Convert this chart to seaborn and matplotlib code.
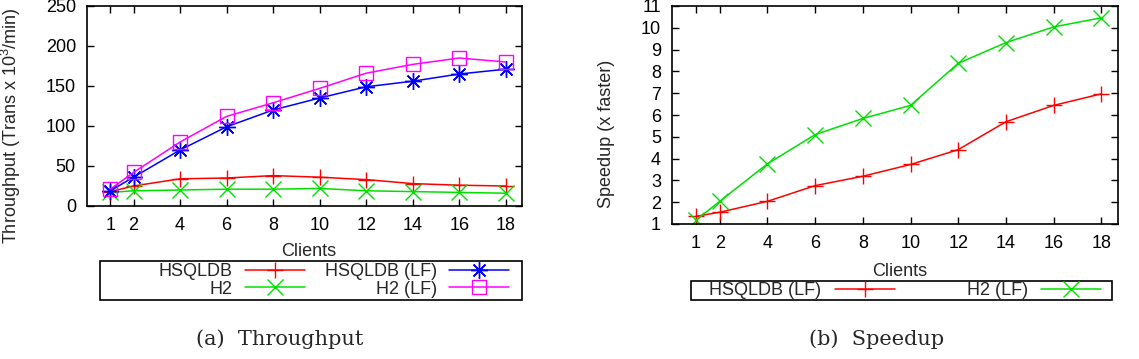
import pandas as pd
import matplotlib
matplotlib.use("Agg")
import matplotlib.pyplot as plt
import seaborn as sns
from matplotlib.patches import Rectangle

# Data
clients = [1, 2, 4, 6, 8, 10, 12, 14, 16, 18]

hsqldb = [18, 25, 34, 35, 38, 36, 33, 28, 26, 25]
h2 = [17, 19, 20, 21, 21, 22, 19, 18, 17, 16]
hsqldb_lf = [19, 36, 70, 99, 120, 135, 149, 156, 165, 171]
h2_lf = [21, 42, 80, 112, 129, 147, 166, 177, 185, 180]

speedup_hsqldb_lf = [1.35, 1.54, 2.04, 2.76, 3.19, 3.73, 4.41, 5.69, 6.44, 6.97]
speedup_h2_lf = [1.17, 2.04, 3.76, 5.10, 5.84, 6.44, 8.37, 9.32, 10.04, 10.46]

RED, GREEN, BLUE, MAGENTA = "#ff0000", "#00e000", "#0000ff", "#ff00ff"

sns.set_theme(style="ticks")
plt.rcParams["font.family"] = ["Liberation Sans", "DejaVu Sans"]
plt.rcParams["mathtext.fontset"] = "custom"
plt.rcParams["mathtext.rm"] = "Liberation Sans"
plt.rcParams["mathtext.it"] = "Liberation Sans:italic"

FS = 13
W, H = 1139, 359
fig = plt.figure(figsize=(W / 100, H / 100), dpi=100)

ax1 = fig.add_axes([87 / W, 1 - 206 / H, 435 / W, 200 / H])
ax2 = fig.add_axes([672 / W, 1 - 224 / H, 446 / W, 218 / H])


def draw(ax, y, label, color, marker, ms, mfc=None):
    sns.lineplot(x=clients, y=y, ax=ax, label=label, color=color, marker=marker,
                 markersize=ms, markeredgecolor=color, markeredgewidth=1.0,
                 markerfacecolor=mfc if mfc else color, linewidth=1.1)


# (a) Throughput
draw(ax1, hsqldb, "HSQLDB", RED, "+", 12)
draw(ax1, h2, "H2", GREEN, "x", 11)
draw(ax1, hsqldb_lf, "HSQLDB (LF)", BLUE, (8, 2, 0), 12)
draw(ax1, h2_lf, "H2 (LF)", MAGENTA, "s", 10, mfc="none")

# (b) Speedup
draw(ax2, speedup_hsqldb_lf, "HSQLDB (LF)", RED, "+", 12)
draw(ax2, speedup_h2_lf, "H2 (LF)", GREEN, "x", 11)

for ax in (ax1, ax2):
    ax.set_xlim(0, 18.7)
    ax.set_xticks(clients)
    ax.tick_params(direction="in", top=True, right=True, length=5, width=1,
                   labelsize=FS, pad=8, colors="black")
    for s in ax.spines.values():
        s.set_linewidth(1.2)
        s.set_color("black")
    ax.set_xlabel("Clients", fontsize=FS)
    ax.grid(False)

ax1.set_ylim(0, 250)
ax1.set_yticks(range(0, 251, 50))
ax1.set_ylabel("Throughput (Trans x $10^{3}$/min)", fontsize=FS)
ax1.yaxis.set_label_coords(-0.148, 0.4)
ax1.xaxis.set_label_coords(0.51, -0.185)

ax2.set_ylim(1, 11)
ax2.set_yticks(range(1, 12))
ax2.set_ylabel("Speedup (x faster)", fontsize=FS)
ax2.yaxis.set_label_coords(-0.128, 0.413)
ax2.xaxis.set_label_coords(0.51, -0.18)

# legends, gnuplot style: label then sample, boxed under each plot
ax1.get_legend().remove()
ax2.get_legend().remove()
h1, l1 = ax1.get_legend_handles_labels()
fig.legend(h1, l1, ncol=2, loc="center right", bbox_to_anchor=(509 / W, 1 - 280.5 / H),
           frameon=False, markerfirst=False, fontsize=FS, handlelength=3.3,
           handletextpad=0.7, columnspacing=1.1, labelspacing=0.0, borderpad=0,
           borderaxespad=0)
fig.add_artist(Rectangle((100 / W, 1 - 300 / H), 422 / W, 39 / H, transform=fig.transFigure,
                         fill=False, edgecolor="black", linewidth=1.2))

h2_, l2_ = ax2.get_legend_handles_labels()
fig.legend(h2_, l2_, ncol=2, loc="center right", bbox_to_anchor=(1101 / W, 1 - 290.5 / H),
           frameon=False, markerfirst=False, fontsize=FS, handlelength=3.3,
           handletextpad=0.75, columnspacing=4.0, labelspacing=0.0, borderpad=0,
           borderaxespad=0)
fig.add_artist(Rectangle((691 / W, 1 - 300 / H), 421 / W, 19 / H, transform=fig.transFigure,
                         fill=False, edgecolor="black", linewidth=1.2))

# sub-captions
fig.text(280 / W, 1 - 339 / H, "(a)  Throughput", ha="center", va="center",
         family="DejaVu Serif", fontsize=15)
fig.text(877 / W, 1 - 339 / H, "(b)  Speedup", ha="center", va="center",
         family="DejaVu Serif", fontsize=15)

fig.savefig("out.png", dpi=100)
